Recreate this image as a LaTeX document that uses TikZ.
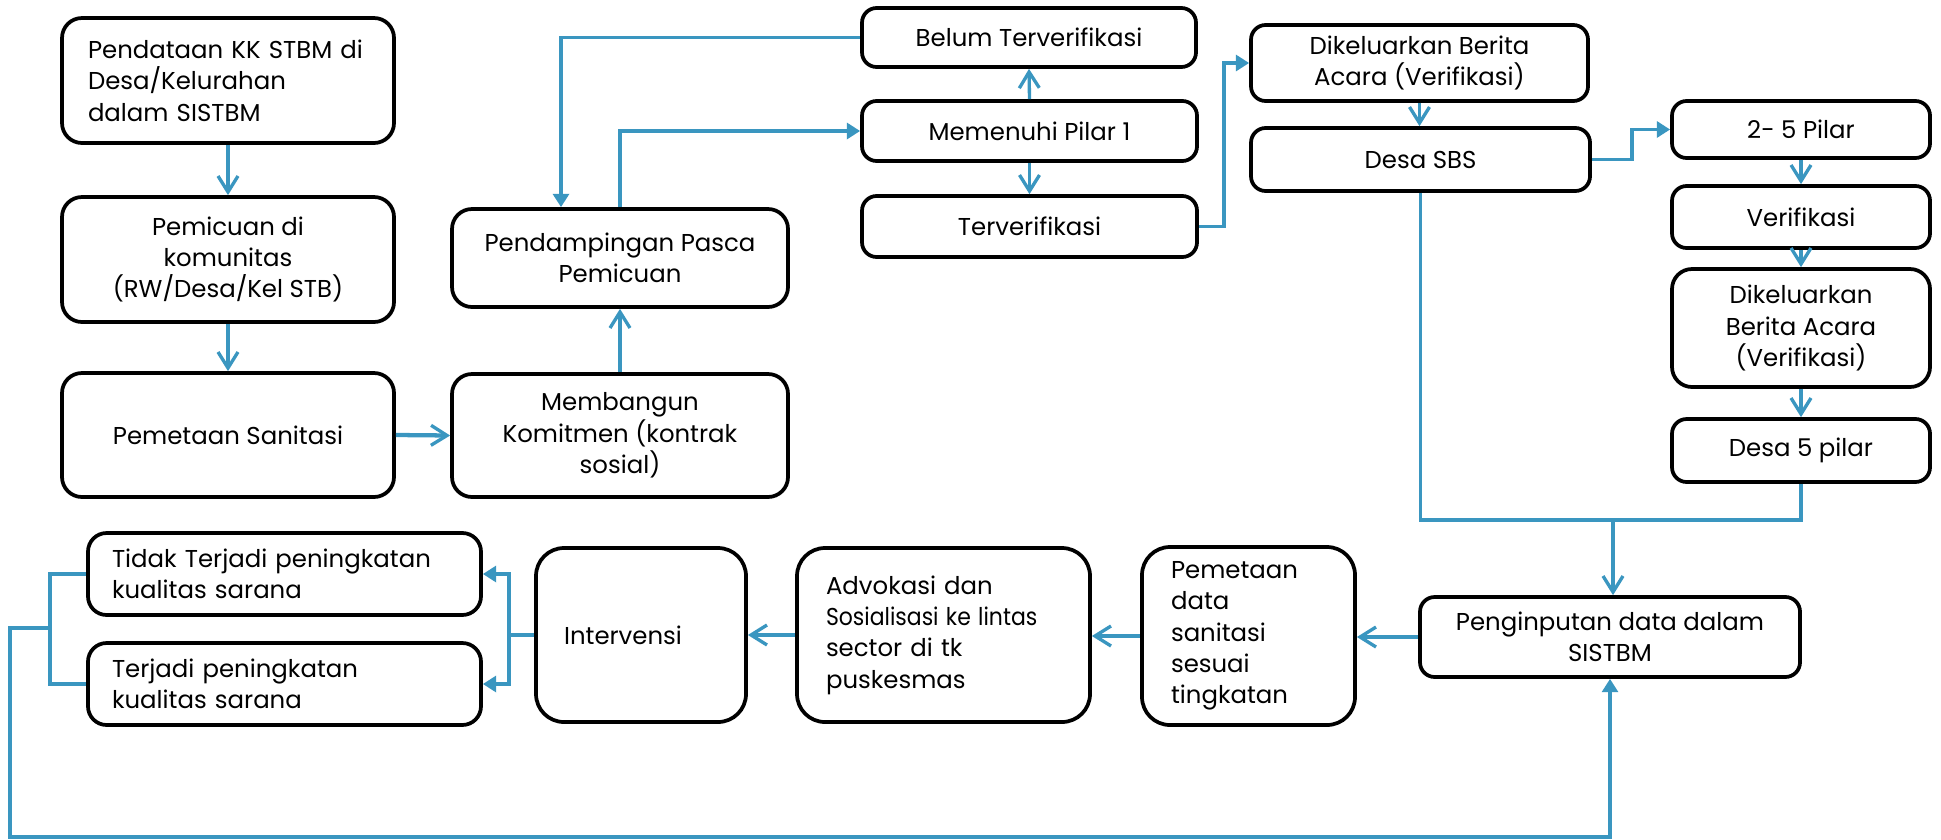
\documentclass[tikz,border=0pt]{standalone}
\usepackage{fontspec}
\setmainfont{Poppins}
\usetikzlibrary{arrows.meta}
\definecolor{lineblue}{RGB}{58,150,192}
\tikzset{
  box/.style={draw=black, line width=2.8pt, rounded corners=11pt, fill=white,
    font=\fontsize{18.3}{23.5}\selectfont, inner sep=2pt, text=black},
  bigr/.style={rounded corners=21pt},
  conn/.style={draw=lineblue, line width=2.5pt},
  thin/.style={line width=2.3pt},
  thick/.style={line width=3.2pt},
  barb/.style={conn, -{Straight Barb[length=12pt,width=15pt,line width=2.5pt]}},
  tri/.style={conn, -{Triangle[length=10pt,width=12pt]}},
}
\begin{document}
\begin{tikzpicture}[x=0.75pt,y=-0.75pt]
\useasboundingbox (0,0) rectangle (1941,839);

% left column
\node[box, rounded corners=15pt, minimum width=249pt, minimum height=93.75pt, inner xsep=19.5pt, text width=210pt, align=left]
  (pend) at (228,80.5) {\mbox{Pendataan KK STBM di}\\\mbox{Desa/Kelurahan}\\\mbox{dalam SISTBM}};
\node[box, rounded corners=15pt, minimum width=249pt, minimum height=93.75pt, align=center]
  (pemic) at (228,259.5) {Pemicuan di\\komunitas\\(RW/Desa/Kel STB)};
\node[box, rounded corners=15pt, minimum width=249pt, minimum height=93pt, align=center]
  (pemet) at (228,435) {Pemetaan Sanitasi};
\node[box, rounded corners=15pt, minimum width=252pt, minimum height=92.25pt, align=center]
  (memb) at (620,435.5) {Membangun\\Komitmen (kontrak\\sosial)};
\node[box, rounded corners=15pt, minimum width=252pt, minimum height=73.5pt, align=center]
  (pdamp) at (620,258) {Pendampingan Pasca\\Pemicuan};

% middle column
\node[box, minimum width=250.5pt, minimum height=44.25pt, align=center]
  (belum) at (1029,37.5) {Belum Terverifikasi};
\node[box, minimum width=251.25pt, minimum height=45pt, align=center]
  (memen) at (1029.5,131) {Memenuhi Pilar 1};
\node[box, minimum width=251.25pt, minimum height=45.75pt, align=center]
  (terv) at (1029.5,226.5) {Terverifikasi};
\node[box, minimum width=252.75pt, minimum height=57pt, align=center]
  (dik1) at (1419.5,63) {Dikeluarkan Berita\\Acara (Verifikasi)};
\node[box, minimum width=254.25pt, minimum height=47.25pt, align=center]
  (sbs) at (1420.5,159.5) {Desa SBS};

% right column
\node[box, minimum width=193.5pt, minimum height=42.75pt, align=center]
  (p25) at (1801,129.5) {2- 5 Pilar};
\node[box, minimum width=193.5pt, minimum height=46.5pt, align=center]
  (verif) at (1801,217) {Verifikasi};
\node[box, rounded corners=15pt, minimum width=193.5pt, minimum height=88.5pt, align=center]
  (dik2) at (1801,328) {Dikeluarkan\\Berita Acara\\(Verifikasi)};
\node[box, minimum width=193.5pt, minimum height=47.25pt, align=center]
  (desa5) at (1801,450.5) {Desa 5 pilar};

% bottom row
\node[box, minimum width=285pt, minimum height=60pt, align=center]
  (input) at (1610,637) {Penginputan data dalam\\SISTBM};
\node[box, bigr, minimum width=159.75pt, minimum height=133.5pt, inner xsep=21.75pt, text width=116.25pt, align=left]
  (pdata) at (1248.5,636) {\mbox{Pemetaan}\\\mbox{data}\\\mbox{sanitasi}\\\mbox{sesuai}\\\mbox{tingkatan}};
\node[box, bigr, minimum width=219.75pt, minimum height=130.5pt, inner xsep=21.75pt, text width=176.25pt, align=left]
  (advok) at (943.5,635) {\mbox{Advokasi dan}\\\mbox{\scalebox{0.9}[1]{Sosialisasi ke lintas}}\\\mbox{sector di tk}\\\mbox{puskesmas}};
\node[box, bigr, minimum width=157.5pt, minimum height=130.5pt, inner xsep=21pt, text width=115.5pt, align=left]
  (interv) at (641,635) {\mbox{Intervensi}};
\node[box, rounded corners=14pt, minimum width=294.75pt, minimum height=61.5pt, inner xsep=18pt, text width=258.75pt, align=left]
  (tidak) at (284.5,574) {\mbox{Tidak Terjadi peningkatan}\\\mbox{kualitas sarana}};
\node[box, rounded corners=14pt, minimum width=294.75pt, minimum height=61.5pt, inner xsep=18pt, text width=258.75pt, align=left]
  (terjadi) at (284.5,684) {\mbox{Terjadi peningkatan}\\\mbox{kualitas sarana}};

% helper coordinates
\coordinate (cB) at (561,0);
\coordinate (cT) at (1224,0);
\coordinate (cS) at (1632,0);
\coordinate (jn) at (1613,520);
\coordinate (cI) at (509,0);
\coordinate (cL) at (50,0);
\coordinate (lp) at (50,628);
\coordinate (lc) at (10,837);

% connectors
\draw[barb] (pend.south) -- (pemic.north);
\draw[barb] (pemic.south) -- (pemet.north);
\draw[barb, thick] (pemet.east) -- (memb.west);
\draw[barb] (memb.north) -- (pdamp.south);
\draw[tri] (pdamp.north) |- (memen.west);
\draw[tri] (belum.west) -| (cB |- pdamp.north);
\draw[barb] (memen.north) -- (belum.south);
\draw[barb] (memen.south) -- (terv.north);
\draw[tri] (terv.east) -- (cT |- terv.east) |- (dik1.west);
\draw[barb] (dik1.south) -- (dik1.south |- sbs.north);
\draw[tri] (sbs.east) -- (cS |- sbs.east) |- (p25.west);
\draw[barb] (p25.south) -- (verif.north);
\draw[barb] (verif.south) -- (dik2.north);
\draw[barb] (dik2.south) -- (desa5.north);
\draw[conn, thin] (sbs.south) |- (jn) -| (desa5.south);
\draw[barb, thin] (jn) -- (jn |- input.north);
\draw[barb, thick] (input.west) -- (pdata.east |- input.west);
\draw[barb, thick] (pdata.west) -- (advok.east |- pdata.west);
\draw[barb, thick] (advok.west) -- (interv.east |- advok.west);
\draw[tri, thick] (interv.west) -- (cI |- interv.west) |- (tidak.east);
\draw[tri, thick] (cI |- interv.west) |- (terjadi.east);
\draw[conn] (tidak.west) -| (cL |- terjadi.west) -- (terjadi.west);
\draw[tri, thin] (lp) -| (lc) -| (input.south);
\end{tikzpicture}
\end{document}
